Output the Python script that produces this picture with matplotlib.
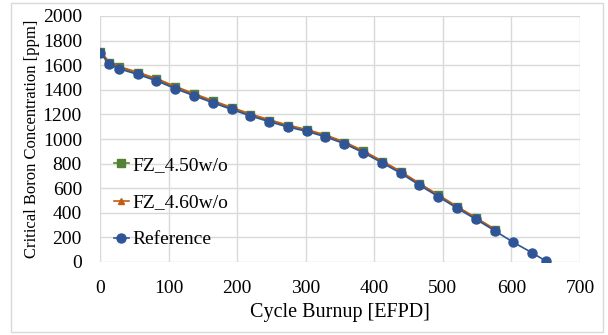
import matplotlib.pyplot as plt
from matplotlib.patches import Rectangle

plt.rcParams['font.family'] = ['Liberation Serif', 'DejaVu Serif']

# burnup points [EFPD]
burnup = [0, 13.7, 27.4, 54.8, 82.2, 109.6, 137, 164.4, 191.8, 219.2, 246.6, 274,
          301.4, 328.8, 356.2, 383.6, 411, 438.4, 465.8, 493.2, 520.6, 548, 575.4,
          602.8, 630.2, 650]

# critical boron [ppm]
ref = [1700, 1608, 1572, 1525, 1474, 1410, 1352, 1295, 1241, 1188, 1141, 1098,
       1062, 1018, 962, 890, 808, 722, 625, 532, 438, 348, 255, 160, 75, 8]
fz450 = [1708, 1618, 1582, 1535, 1484, 1420, 1362, 1305, 1250, 1197, 1150, 1107,
         1071, 1027, 971, 899, 817, 731, 634, 541, 447, 357, 264]
fz460 = [1716, 1626, 1590, 1543, 1492, 1428, 1369, 1312, 1257, 1204, 1157, 1113,
         1077, 1033, 977, 905, 823, 737, 640, 546, 452, 361, 268]

n = len(fz450)

fig = plt.figure(figsize=(6.08, 3.35), dpi=100)
ax = fig.add_axes([100/608, 1-262/335, 480/608, 246/335])

ax.plot(burnup[:n], fz450, color='#548235', marker='s', ms=5.5, lw=1.2, label='FZ_4.50w/o')
ax.plot(burnup[:n], fz460, color='#C55A11', marker='^', ms=4.5, lw=1.2, label='FZ_4.60w/o')
ax.plot(burnup, ref, color='#2F5597', marker='o', ms=6.5, lw=1.2, label='Reference')

ax.set_xlim(0, 700)
ax.set_ylim(0, 2000)
ax.set_xticks(range(0, 701, 100))
ax.set_yticks(range(0, 2001, 200))
ax.grid(True, color='#D9D9D9', lw=1)
ax.set_axisbelow(True)
for s in ax.spines.values():
    s.set_visible(False)
ax.tick_params(length=0, labelsize=14, colors='#000000')
ax.tick_params(axis='x', pad=13)
ax.tick_params(axis='y', pad=13)
ax.set_xlabel('Cycle Burnup [EFPD]', fontsize=14.5, labelpad=4)
ax.set_ylabel('Critical Boron Concentration [ppm]', fontsize=12, labelpad=2)

leg = ax.legend(loc='lower left', bbox_to_anchor=(0.0, 0.0), fontsize=14, frameon=False,
                handlelength=0.8, handletextpad=0.15, labelspacing=1.0, borderaxespad=0.3)

fig.patches.append(Rectangle((11/608, 3/335), 592/608, 329/335, transform=fig.transFigure,
                             fill=False, edgecolor='#D9D9D9', lw=1))

fig.savefig('out.png', dpi=100)
